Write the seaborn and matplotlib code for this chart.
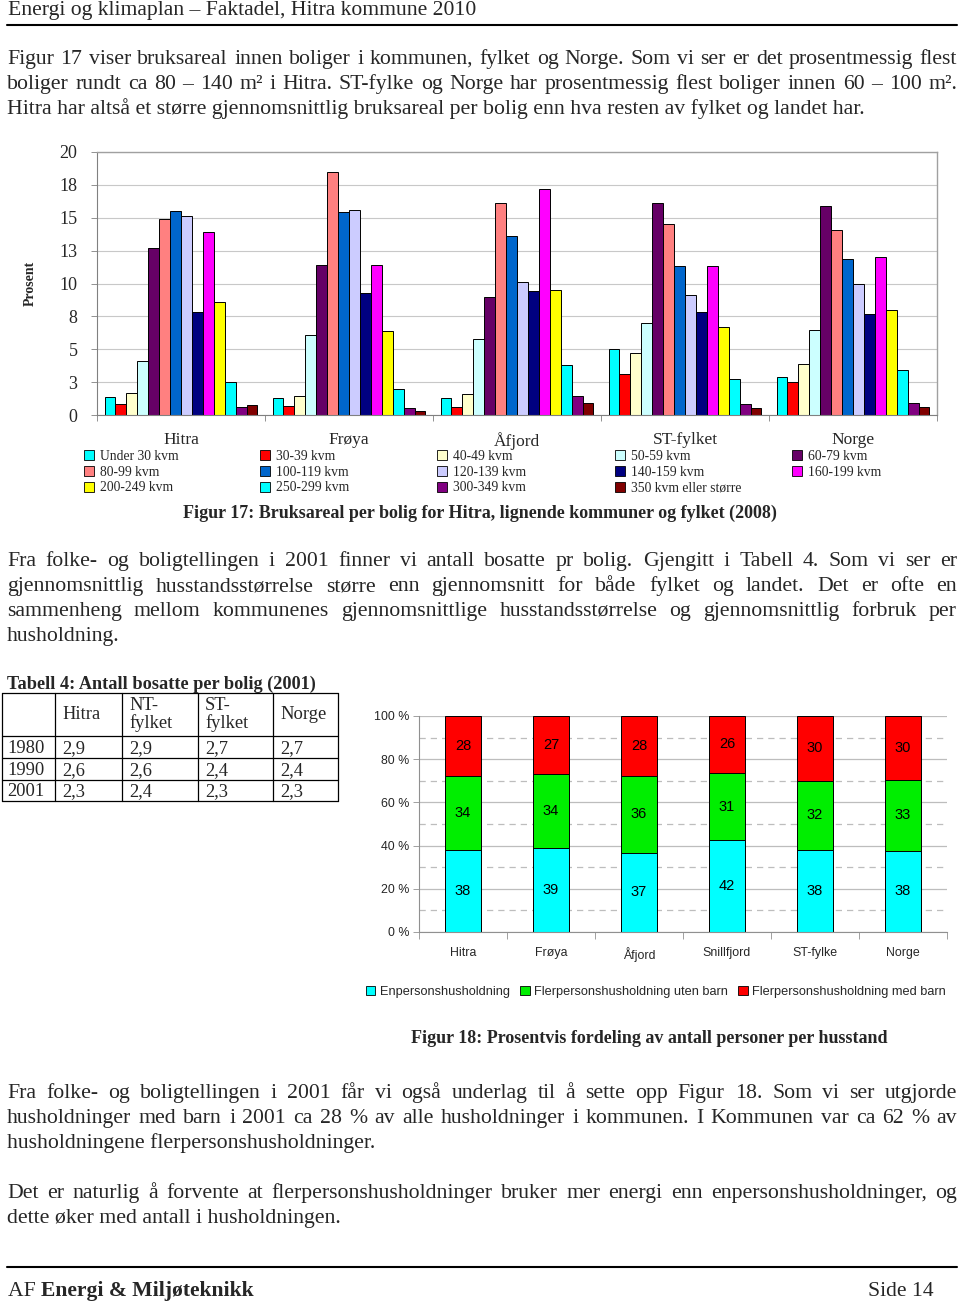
import numpy as np
import pandas as pd
import matplotlib
matplotlib.use("Agg")
import matplotlib.pyplot as plt
import seaborn as sns
from matplotlib.lines import Line2D
from matplotlib.patches import Patch
from matplotlib.font_manager import FontProperties
from matplotlib.ticker import FixedLocator, FuncFormatter

# ---------------- data ----------------
regions = ["Hitra", "Frøya", "Åfjord", "ST-fylket", "Norge"]
size_classes = ["Under 30 kvm", "30-39 kvm", "40-49 kvm", "50-59 kvm", "60-79 kvm",
                "80-99 kvm", "100-119 kvm", "120-139 kvm", "140-159 kvm", "160-199 kvm",
                "200-249 kvm", "250-299 kvm", "300-349 kvm", "350 kvm eller større"]
hitra_pct = [1.4, 0.84, 1.65, 4.1, 12.7, 14.9, 15.5, 15.1, 7.8, 13.9, 8.6, 2.5, 0.58, 0.76]
froya_pct = [1.3, 0.7, 1.45, 6.1, 11.4, 18.5, 15.4, 15.6, 9.3, 11.4, 6.35, 2.0, 0.53, 0.3]
afjord_pct = [1.3, 0.63, 1.6, 5.8, 9.0, 16.1, 13.6, 10.1, 9.4, 17.2, 9.5, 3.8, 1.45, 0.9]
stfylket_pct = [5.0, 3.1, 4.7, 7.0, 16.1, 14.5, 11.3, 9.1, 7.8, 11.3, 6.7, 2.7, 0.8, 0.56]
norge_pct = [2.9, 2.5, 3.9, 6.5, 15.9, 14.1, 11.9, 10.0, 7.7, 12.0, 8.0, 3.45, 0.9, 0.63]
size_colors = ["#00FFFF", "#FF0000", "#FFFFCC", "#CCFFFF", "#660066", "#FF8080", "#0066CC",
               "#CCCCFF", "#000080", "#FF00FF", "#FFFF00", "#00FFFF", "#800080", "#800000"]
y_ticks_top = [0, 2.5, 5, 7.5, 10, 12.5, 15, 17.5, 20]

hh_categories = ["Hitra", "Frøya", "Åfjord", "Snillfjord", "ST-fylke", "Norge"]
hh_series = ["Enpersonshusholdning", "Flerpersonshusholdning uten barn", "Flerpersonshusholdning med barn"]
enperson = [38, 39, 37, 42, 38, 38]
fler_uten_barn = [34, 34, 36, 31, 32, 33]
fler_med_barn = [28, 27, 28, 26, 30, 30]
hh_colors = ["#00FFFF", "#00EE00", "#FF0000"]

table_header = ["", "Hitra", "NT-\nfylket", "ST-\nfylket", "Norge"]
table_years = ["1980", "1990", "2001"]
table_hitra = ["2,9", "2,6", "2,3"]
table_nt = ["2,9", "2,6", "2,4"]
table_st = ["2,7", "2,4", "2,3"]
table_norge = ["2,7", "2,4", "2,3"]

# ---------------- setup ----------------
sns.set_style("white")
SERIF = "Liberation Serif"
SANS = "Liberation Sans"
plt.rcParams["font.family"] = [SERIF, "DejaVu Serif"]

W, H = 960, 1301
fig = plt.figure(figsize=(9.6, 13.01), dpi=100)
renderer = fig.canvas.get_renderer()


def fx(x):
    return x / W


def fy(y):
    return 1 - y / H


def tw(s, size, weight="normal", family=SERIF):
    fp = FontProperties(family=family, size=size, weight=weight)
    w, h, d = renderer.get_text_width_height_descent(s, fp, ismath=False)
    return w


def fit(s, width, weight="normal", family=SERIF):
    return 10.0 * width / tw(s, 10.0, weight, family)


def hline(x0, x1, y, lw=0.8, color="black"):
    fig.add_artist(Line2D([fx(x0), fx(x1)], [fy(y), fy(y)], lw=lw, color=color,
                          transform=fig.transFigure))


def vline(x, y0, y1, lw=0.8, color="black"):
    fig.add_artist(Line2D([fx(x), fx(x)], [fy(y0), fy(y1)], lw=lw, color=color,
                          transform=fig.transFigure))


BODY = fit("Hitra har altså et større gjennomsnittlig bruksareal per bolig enn hva resten av fylket og landet har.", 858)


def paragraph(lines, baselines, size=BODY, x0=7, x1=957):
    for i, (line, yb) in enumerate(zip(lines, baselines)):
        if i == len(lines) - 1:
            fig.text(fx(x0), fy(yb), line, fontsize=size, family=SERIF, va="baseline", ha="left")
            continue
        words = line.split(" ")
        widths = [tw(w_, size) for w_ in words]
        gap = (x1 - x0 - sum(widths)) / (len(words) - 1)
        x = x0
        for w_, wd in zip(words, widths):
            fig.text(fx(x), fy(yb), w_, fontsize=size, family=SERIF, va="baseline", ha="left")
            x += wd + gap


# ---------------- header / footer ----------------
hdr = "Energi og klimaplan – Faktadel, Hitra kommune 2010"
fig.text(fx(8), fy(15), hdr, fontsize=fit(hdr, 470), family=SERIF, va="baseline")
hline(7, 957, 25, lw=1.5)

hline(7, 957, 1267, lw=1.5)
fs_foot = 10 * 246 / (tw("AF ", 10) + tw("Energi & Miljøteknikk", 10, "bold"))
fig.text(fx(8), fy(1296), "AF ", fontsize=fs_foot, family=SERIF, va="baseline")
fig.text(fx(8 + tw("AF ", fs_foot)), fy(1296), "Energi & Miljøteknikk", fontsize=fs_foot,
         family=SERIF, weight="bold", va="baseline")
fig.text(fx(934), fy(1296), "Side 14", fontsize=fs_foot, family=SERIF, va="baseline", ha="right")

# ---------------- paragraphs ----------------
paragraph([
    "Figur 17 viser bruksareal innen boliger i kommunen, fylket og Norge. Som vi ser er det prosentmessig flest",
    "boliger rundt ca 80 – 140 m² i Hitra. ST-fylke og Norge har prosentmessig flest boliger innen 60 – 100 m².",
    "Hitra har altså et større gjennomsnittlig bruksareal per bolig enn hva resten av fylket og landet har.",
], [64, 89, 114])

paragraph([
    "Fra folke- og boligtellingen i 2001 finner vi antall bosatte pr bolig. Gjengitt i Tabell 4. Som vi ser er",
    "gjennomsnittlig husstandsstørrelse større enn gjennomsnitt for både fylket og landet. Det er ofte en",
    "sammenheng mellom kommunenes gjennomsnittlige husstandsstørrelse og gjennomsnittlig forbruk per",
    "husholdning.",
], [566, 591, 616, 641])

paragraph([
    "Fra folke- og boligtellingen i 2001 får vi også underlag til å sette opp Figur 18. Som vi ser utgjorde",
    "husholdninger med barn i 2001 ca 28 % av alle husholdninger i kommunen. I Kommunen var ca 62 % av",
    "husholdningene flerpersonshusholdninger.",
], [1098, 1123, 1148])

paragraph([
    "Det er naturlig å forvente at flerpersonshusholdninger bruker mer energi enn enpersonshusholdninger, og",
    "dette øker med antall i husholdningen.",
], [1198, 1223])

# ---------------- Figure 17 (grouped bars) ----------------
df = pd.DataFrame({
    "Region": np.repeat(regions, len(size_classes)),
    "Størrelse": size_classes * len(regions),
    "Prosent": np.concatenate([hitra_pct, froya_pct, afjord_pct, stfylket_pct, norge_pct]),
})
ax1 = fig.add_axes([fx(97), fy(415), (937 - 97) / W, (415 - 152) / H])
sns.barplot(data=df, x="Region", y="Prosent", hue="Størrelse", order=regions,
            hue_order=size_classes, palette=size_colors, saturation=1, width=0.91,
            edgecolor="black", linewidth=0.7, errorbar=None, legend=False, ax=ax1)
ax1.set_ylim(0, 20)
ax1.set_xlim(-0.5, len(regions) - 0.5)
ax1.yaxis.set_major_locator(FixedLocator(y_ticks_top))
ax1.yaxis.set_major_formatter(FuncFormatter(lambda v, p: str(int(v + 0.5))))
ax1.xaxis.set_minor_locator(FixedLocator(np.arange(-0.5, len(regions), 1.0)))
ax1.grid(axis="y", color="#C8C8C8", lw=0.8)
ax1.set_axisbelow(True)
for s in ["top", "right"]:
    ax1.spines[s].set_color("#A0A0A0")
    ax1.spines[s].set_linewidth(1.0)
ax1.spines["left"].set_color("#808080")
ax1.spines["bottom"].set_color("#808080")
fs_ytick = fit("20", 18)
fs_cat = fit("Hitra", 36)
ax1.tick_params(axis="y", which="major", length=4, width=0.6, color="#808080",
                direction="out", pad=10, labelsize=fs_ytick, left=True)
ax1.tick_params(axis="x", which="major", length=0, pad=12, labelsize=fs_cat)
ax1.tick_params(axis="x", which="minor", length=4, width=0.6, color="#808080",
                direction="out", bottom=True)
ax1.set_xlabel("")
ax1.set_ylabel("Prosent", fontsize=10, weight="bold", family=SERIF)
ax1.yaxis.set_label_coords((37 - 97) / (937 - 97), 0.5)

fs_leg = 9.8
handles17 = [Patch(facecolor=c, edgecolor="black", linewidth=0.6) for c in size_colors]
col_x = [84, 260, 437, 615, 792]
for ci, xc in enumerate(col_x):
    idx = [ci + 5 * r for r in range(3) if ci + 5 * r < len(size_classes)]
    fig.legend([handles17[i] for i in idx], [size_classes[i] for i in idx],
               loc="upper left", bbox_to_anchor=(fx(xc), fy(450)), frameon=False,
               borderpad=0, borderaxespad=0, handlelength=0.75, handleheight=0.75,
               handletextpad=0.4, labelspacing=0.2,
               prop=FontProperties(family=SERIF, size=fs_leg))

cap17 = "Figur 17: Bruksareal per bolig for Hitra, lignende kommuner og fylket (2008)"
fig.text(fx(183), fy(518), cap17, fontsize=fit(cap17, 599, "bold"), weight="bold",
         family=SERIF, va="baseline")

# ---------------- Table 4 ----------------
ttl = "Tabell 4: Antall bosatte per bolig (2001)"
fig.text(fx(7), fy(689), ttl, fontsize=fit(ttl, 309, "bold"), weight="bold",
         family=SERIF, va="baseline")
row_y = [693, 736, 758, 780, 801]
col_b = [2, 55, 122, 198, 273, 338]
for y in row_y:
    hline(col_b[0], col_b[-1], y, lw=0.9)
for x in col_b:
    vline(x, row_y[0], row_y[-1], lw=0.9)
fs_tab = fit("1980", 37)
for ci, h in enumerate(table_header):
    fig.text(fx(col_b[ci] + 7), fy((row_y[0] + row_y[1]) / 2), h, fontsize=fs_tab,
             family=SERIF, va="center", ha="left", linespacing=1.05)
table_cols = [table_years, table_hitra, table_nt, table_st, table_norge]
for ci, col in enumerate(table_cols):
    for ri, v in enumerate(col):
        yc = (row_y[ri + 1] + row_y[ri + 2]) / 2
        fig.text(fx(col_b[ci] + (5 if ci == 0 else 7)), fy(yc + 6), v, fontsize=fs_tab,
                 family=SERIF, va="baseline", ha="left")

# ---------------- Figure 18 (100% stacked bars) ----------------
e = np.array(enperson, float)
u = np.array(fler_uten_barn, float)
m = np.array(fler_med_barn, float)
tot = e + u + m
pe, pu, pm = e / tot * 100, u / tot * 100, m / tot * 100
ax2 = fig.add_axes([fx(419), fy(932), (947 - 419) / W, (932 - 716) / H])
layers = [(pe + pu + pm, hh_colors[2]), (pe + pu, hh_colors[1]), (pe, hh_colors[0])]
for vals, col in layers:
    sns.barplot(x=hh_categories, y=vals, color=col, saturation=1, width=0.4,
                edgecolor="black", linewidth=0.7, errorbar=None, ax=ax2)
fs_dl = 10.5
for i in range(len(hh_categories)):
    for lo, hgt, lab in [(0, pe[i], enperson[i]), (pe[i], pu[i], fler_uten_barn[i]),
                         (pe[i] + pu[i], pm[i], fler_med_barn[i])]:
        ax2.text(i, lo + hgt / 2, str(lab), ha="center", va="center", fontsize=fs_dl,
                 family=SANS, color="black")
ax2.set_ylim(0, 100)
ax2.set_xlim(-0.5, len(hh_categories) - 0.5)
ax2.yaxis.set_major_locator(FixedLocator(np.arange(0, 101, 20)))
ax2.yaxis.set_minor_locator(FixedLocator(np.arange(10, 100, 20)))
ax2.yaxis.set_major_formatter(FuncFormatter(lambda v, p: f"{v:.0f} %"))
ax2.xaxis.set_minor_locator(FixedLocator(np.arange(-0.5, len(hh_categories), 1.0)))
ax2.grid(axis="y", which="major", color="#BDBDBD", lw=0.9)
ax2.grid(axis="y", which="minor", color="#BDBDBD", lw=0.9, ls=(0, (5, 4)))
ax2.set_axisbelow(True)
ax2.spines["top"].set_visible(False)
ax2.spines["right"].set_visible(False)
ax2.spines["left"].set_color("#909090")
ax2.spines["bottom"].set_color("#909090")
fs_pt = fit("100 %", 35, family=SANS)
fs_xc = fit("Snillfjord", 48, family=SANS)
ax2.tick_params(axis="y", which="major", length=4, width=0.6, color="#909090",
                direction="out", pad=3, labelsize=fs_pt, left=True)
ax2.tick_params(axis="y", which="minor", length=0)
for lab in ax2.get_yticklabels():
    lab.set_family(SANS)
ax2.tick_params(axis="x", which="major", length=0, pad=11, labelsize=fs_xc)
ax2.tick_params(axis="x", which="minor", length=5, width=0.6, color="#909090",
                direction="out", bottom=True)
for lab in ax2.get_xticklabels():
    lab.set_family(SANS)
ax2.set_xlabel("")
ax2.set_ylabel("")

fs_l18 = fit("Enpersonshusholdning", 130, family=SANS)
handles18 = [Patch(facecolor=c, edgecolor="black", linewidth=0.6) for c in hh_colors]
fig.legend(handles18, hh_series, loc="center", bbox_to_anchor=(fx(656), fy(992)), ncol=3,
           frameon=False, borderpad=0, borderaxespad=0, handlelength=0.75,
           handleheight=0.75, handletextpad=0.35, columnspacing=0.8,
           prop=FontProperties(family=SANS, size=fs_l18))

cap18 = "Figur 18: Prosentvis fordeling av antall personer per husstand"
fig.text(fx(411), fy(1043), cap18, fontsize=fit(cap18, 480, "bold"), weight="bold",
         family=SERIF, va="baseline")

fig.savefig("out.png", dpi=100)
